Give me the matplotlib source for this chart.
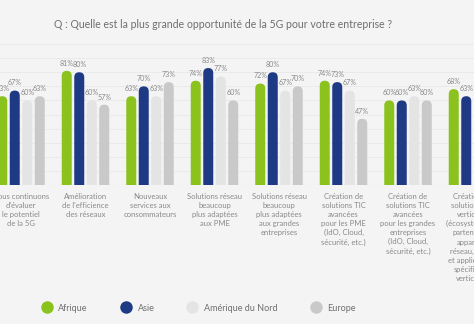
import numpy as np
import matplotlib
matplotlib.use("Agg")
import matplotlib.pyplot as plt
from matplotlib.patches import FancyBboxPatch
from matplotlib.lines import Line2D

plt.rcParams['font.family'] = ['Lato', 'DejaVu Sans']

categories = [
    "Nous continuons\nd'évaluer\nle potentiel\nde la 5G",
    "Amélioration\nde l'efficience\ndes réseaux",
    "Nouveaux\nservices aux\nconsommateurs",
    "Solutions réseau\nbeaucoup\nplus adaptées\naux PME",
    "Solutions réseau\nbeaucoup\nplus adaptées\naux grandes\nentreprises",
    "Création de\nsolutions TIC\navancées\npour les PME\n(IdO, Cloud,\nsécurité, etc.)",
    "Création de\nsolutions TIC\navancées\npour les grandes\nentreprises\n(IdO, Cloud,\nsécurité, etc.)",
    "Création de\nsolutions sur\nverticales\n(écosystème de\npartenaires,\nappareils,\nréseau, cloud\net applications\nspécifiques\nverticales)",
]
series = ["Afrique", "Asie", "Amérique du Nord", "Europe"]
afrique = [63, 81, 63, 74, 72, 74, 60, 68]
asie = [67, 80, 70, 83, 80, 73, 60, 63]
# last group is cut off by the right edge for these two
amerique = [60, 60, 63, 77, 67, 67, 63, np.nan]
europe = [63, 57, 73, 60, 70, 47, 60, np.nan]

colors = ["#8cc21e", "#1e3a85", "#e4e4e4", "#c9c9c9"]
bg = "#f4f4f4"
txt = "#8a8a8a"

fig = plt.figure(figsize=(4.74, 3.24), dpi=100, facecolor=bg)
# axes spans whole width, first and last groups are cut by the edge
ax = fig.add_axes([0, 0.429, 1, 0.435], facecolor=bg)
x0 = -21 / 64.5
ax.set_xlim(x0, x0 + 474 / 64.5)
ax.set_ylim(0, 100)

for g in range(10, 101, 10):
    ax.axhline(g, color="#e9e9e9", lw=0.6, zorder=0)
ax.axhline(0, color="#dcdcdc", lw=0.8, zorder=0)

step = 12.5 / 64.5
width = 10 / 64.5
aspect = 64.5 / 1.41
data = [afrique, asie, amerique, europe]
for k, vals in enumerate(data):
    for i, v in enumerate(vals):
        if np.isnan(v):
            continue
        xc = i + (k - 1.5) * step
        p = FancyBboxPatch((xc - width / 2, -10), width, v + 10,
                           boxstyle="round,pad=0,rounding_size=%f" % (width / 2),
                           mutation_aspect=aspect, fc=colors[k], ec="none", zorder=2)
        ax.add_patch(p)
        ax.annotate("%d%%" % v, (xc, v), xytext=(0, 3), textcoords="offset points",
                    ha="center", va="bottom", fontsize=5.1, color=txt, zorder=3)

for i, c in enumerate(categories):
    ax.text(i, -0.055, c, transform=ax.get_xaxis_transform(), ha="center", va="top",
            fontsize=5.5, color=txt, linespacing=1.35)

for s in ax.spines.values():
    s.set_visible(False)
ax.set_xticks([])
ax.set_yticks([])

fig.text(0.113, 0.923, "Q : Quelle est la plus grande opportunité de la 5G pour votre entreprise ?",
         ha="left", va="center", fontsize=7.6, color="#6f6f6f")

handles = [Line2D([], [], marker="o", ls="none", markersize=9, markerfacecolor=c,
                  markeredgecolor="none") for c in colors]
fig.legend(handles, series, loc="center", bbox_to_anchor=(0.415, 0.049), ncol=4,
           frameon=False, fontsize=6.5, labelcolor="#6f6f6f", handletextpad=0.3,
           columnspacing=3.2)

fig.savefig("out.png", dpi=100, facecolor=bg)
